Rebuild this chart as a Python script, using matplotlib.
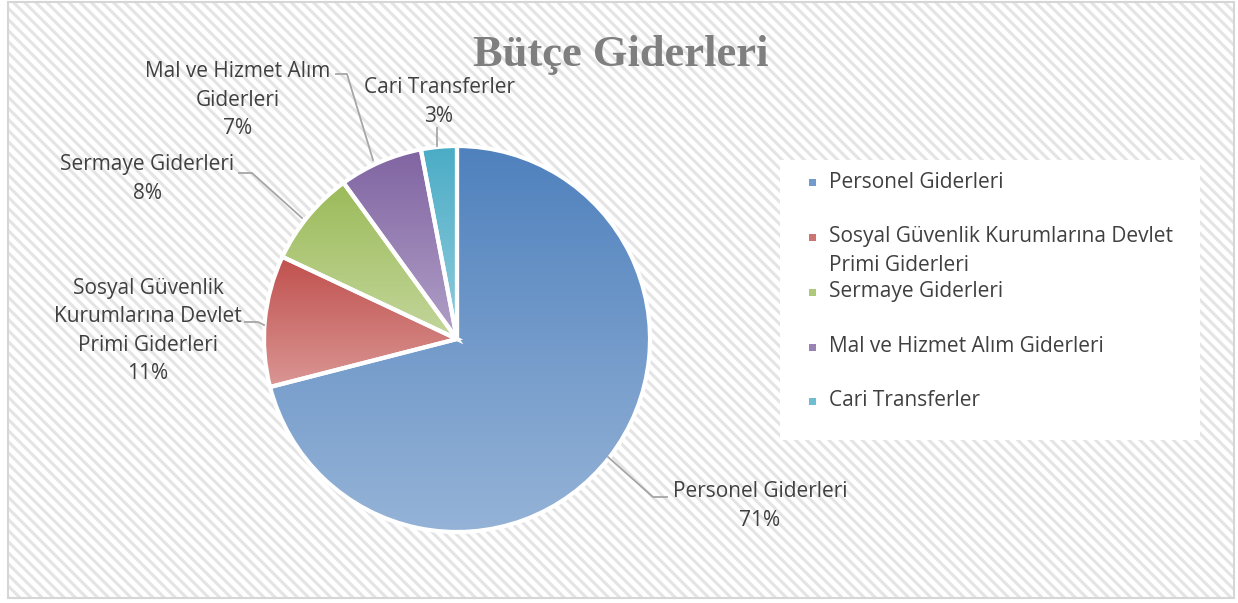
import numpy as np
import matplotlib
matplotlib.use("Agg")
import matplotlib.pyplot as plt
from matplotlib.patches import Rectangle
from matplotlib.colors import to_rgb

labels = ["Personel Giderleri", "Sosyal Güvenlik Kurumlarına Devlet Primi Giderleri",
          "Sermaye Giderleri", "Mal ve Hizmet Alım Giderleri", "Cari Transferler"]
values = [71, 11, 8, 7, 3]
top_cols = ["#4f81bd", "#c0504d", "#9bbb59", "#8064a2", "#4bacc6"]
bot_cols = ["#95b3d7", "#da9694", "#c3d69b", "#b1a0c7", "#92cddc"]
legend_text = ["Personel Giderleri", "Sosyal Güvenlik Kurumlarına Devlet\nPrimi Giderleri",
               "Sermaye Giderleri", "Mal ve Hizmet Alım Giderleri", "Cari Transferler"]
pie_text = ["Personel Giderleri", "Sosyal Güvenlik\nKurumlarına Devlet\nPrimi Giderleri",
            "Sermaye Giderleri", "Mal ve Hizmet Alım\nGiderleri", "Cari Transferler"]

W, H = 1238, 603
def Y(y):
    return H - y

fig = plt.figure(figsize=(W / 100, H / 100), dpi=100)
ax = fig.add_axes([0, 0, 1, 1])
ax.axis("off")

# background: hatched panel with thin border
plt.rcParams["hatch.linewidth"] = 2.2
plt.rcParams["hatch.color"] = "#e4e4e4"
bg = Rectangle((8, Y(598)), 1226, 596, facecolor="white", edgecolor="#e4e4e4",
               hatch="\\\\\\", lw=1.2, zorder=0)
ax.add_patch(bg)
ax.add_patch(Rectangle((8, Y(598)), 1226, 596, facecolor="none", edgecolor="#d6d6d6", lw=1.5, zorder=0.5))

cx, cy, r = 457, Y(339), 193
wedges, _ = ax.pie(values, startangle=90, counterclock=False, center=(cx, cy), radius=r,
                   wedgeprops=dict(edgecolor="white", linewidth=3), frame=True)
ax.axis("off")

for w, c1, c2 in zip(wedges, top_cols, bot_cols):
    ext = w.get_path().get_extents()
    a, b = np.array(to_rgb(c1)), np.array(to_rgb(c2))
    t = np.linspace(0, 1, 256)[:, None]
    grad = (a * (1 - t) + b * t)[:, None, :]
    im = ax.imshow(grad, extent=[ext.x0, ext.x1, ext.y0, ext.y1], origin="upper",
                   aspect="auto", interpolation="bilinear", zorder=1)
    im.set_clip_path(w)
    w.set_facecolor("none")
    w.set_zorder(2)

ax.set_xlim(0, W)
ax.set_ylim(0, H)
ax.set_aspect("equal")

font = "Open Sans"
tc = "#404040"
fs = 15
ls = 1.45

# data labels with leader lines
lc = "#a6a6a6"
ax.text(760, Y(506), pie_text[0] + "\n%d%%" % values[0], ha="center", va="center",
        fontsize=fs, family=font, color=tc, linespacing=ls)
ax.plot([608, 653, 667], [Y(457), Y(497), Y(497)], color=lc, lw=1.3, zorder=3)

ax.text(148, Y(331), pie_text[1] + "\n%d%%" % values[1], ha="center", va="center",
        fontsize=fs, family=font, color=tc, linespacing=ls)
ax.plot([245, 258, 264], [Y(322), Y(322), Y(325)], color=lc, lw=1.3, zorder=3)

ax.text(147, Y(179), pie_text[2] + "\n%d%%" % values[2], ha="center", va="center",
        fontsize=fs, family=font, color=tc, linespacing=ls)
ax.plot([239, 252, 302], [Y(173), Y(173), Y(218)], color=lc, lw=1.3, zorder=3)

ax.text(238, Y(100), pie_text[3] + "\n%d%%" % values[3], ha="center", va="center",
        fontsize=fs, family=font, color=tc, linespacing=ls)
ax.plot([336, 347, 373], [Y(74), Y(74), Y(160)], color=lc, lw=1.3, zorder=3)

ax.text(439, Y(102), pie_text[4] + "\n%d%%" % values[4], ha="center", va="center",
        fontsize=fs, family=font, color=tc, linespacing=ls)
ax.plot([437, 437], [Y(128), Y(146)], color=lc, lw=1.3, zorder=3)

# title
ax.text(621, Y(55), "Bütçe Giderleri", ha="center", va="center", fontsize=32,
        family="Liberation Serif", weight="bold", color="#7f7f7f")

# legend box
ax.add_patch(Rectangle((780, Y(440)), 420, 280, facecolor="white", edgecolor="none", zorder=2))
leg_y = [182, 237, 292, 347, 401]
for i, (txt, yy) in enumerate(zip(legend_text, leg_y)):
    col = (np.array(to_rgb(top_cols[i])) + np.array(to_rgb(bot_cols[i]))) / 2
    ax.add_patch(Rectangle((809, Y(yy) - 3.5), 7, 7, facecolor=col, edgecolor="none", zorder=3))
    ty = yy + 14 * txt.count("\n")
    ax.text(829, Y(ty), txt, ha="left", va="center", fontsize=fs, family=font,
            color=tc, linespacing=ls, zorder=3)

fig.savefig("out.png", dpi=100)
